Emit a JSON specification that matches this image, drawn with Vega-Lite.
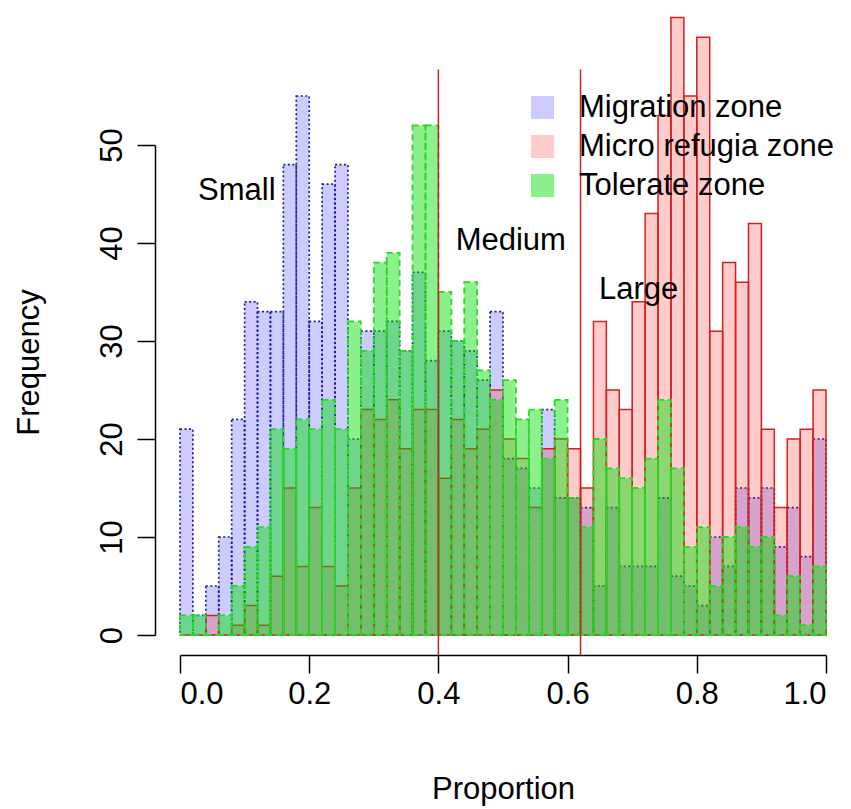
{
  "$schema": "https://vega.github.io/schema/vega-lite/v6.json",
  "width": 646,
  "height": 490,
  "autosize": {"type": "none"},
  "padding": {"left": 180, "top": 145, "right": 25, "bottom": 174},
  "background": "white",
  "config": {
    "view": {"stroke": null},
    "font": "Liberation Sans",
    "axis": {"grid": false, "domainColor": "black", "tickColor": "black", "labelColor": "black", "titleColor": "black", "domainWidth": 1.5, "tickWidth": 1.5, "labelFont": "Liberation Sans", "titleFont": "Liberation Sans", "labelFontSize": 31, "titleFontSize": 31, "titleFontWeight": "normal"}
  },
  "data": {"values": [
    {"z":"Migration zone","a":0,"b":0.02,"n":21},{"z":"Migration zone","a":0.02,"b":0.04,"n":2},{"z":"Migration zone","a":0.04,"b":0.06,"n":5},{"z":"Migration zone","a":0.06,"b":0.08,"n":10},{"z":"Migration zone","a":0.08,"b":0.1,"n":22},
    {"z":"Migration zone","a":0.1,"b":0.12,"n":34},{"z":"Migration zone","a":0.12,"b":0.14,"n":33},{"z":"Migration zone","a":0.14,"b":0.16,"n":33},{"z":"Migration zone","a":0.16,"b":0.18,"n":48},{"z":"Migration zone","a":0.18,"b":0.2,"n":55},
    {"z":"Migration zone","a":0.2,"b":0.22,"n":32},{"z":"Migration zone","a":0.22,"b":0.24,"n":46},{"z":"Migration zone","a":0.24,"b":0.26,"n":48},{"z":"Migration zone","a":0.26,"b":0.28,"n":20},{"z":"Migration zone","a":0.28,"b":0.3,"n":31},
    {"z":"Migration zone","a":0.3,"b":0.32,"n":31},{"z":"Migration zone","a":0.32,"b":0.34,"n":32},{"z":"Migration zone","a":0.34,"b":0.36,"n":29},{"z":"Migration zone","a":0.36,"b":0.38,"n":37},{"z":"Migration zone","a":0.38,"b":0.4,"n":28},
    {"z":"Migration zone","a":0.4,"b":0.42,"n":31},{"z":"Migration zone","a":0.42,"b":0.44,"n":30},{"z":"Migration zone","a":0.44,"b":0.46,"n":29},{"z":"Migration zone","a":0.46,"b":0.48,"n":26},{"z":"Migration zone","a":0.48,"b":0.5,"n":33},
    {"z":"Migration zone","a":0.5,"b":0.52,"n":18},{"z":"Migration zone","a":0.52,"b":0.54,"n":17},{"z":"Migration zone","a":0.54,"b":0.56,"n":15},{"z":"Migration zone","a":0.56,"b":0.58,"n":23},{"z":"Migration zone","a":0.58,"b":0.6,"n":14},
    {"z":"Migration zone","a":0.6,"b":0.62,"n":14},{"z":"Migration zone","a":0.62,"b":0.64,"n":13},{"z":"Migration zone","a":0.64,"b":0.66,"n":5},{"z":"Migration zone","a":0.66,"b":0.68,"n":13},{"z":"Migration zone","a":0.68,"b":0.7,"n":7},
    {"z":"Migration zone","a":0.7,"b":0.72,"n":7},{"z":"Migration zone","a":0.72,"b":0.74,"n":7},{"z":"Migration zone","a":0.74,"b":0.76,"n":14},{"z":"Migration zone","a":0.76,"b":0.78,"n":6},{"z":"Migration zone","a":0.78,"b":0.8,"n":5},
    {"z":"Migration zone","a":0.8,"b":0.82,"n":3},{"z":"Migration zone","a":0.82,"b":0.84,"n":10},{"z":"Migration zone","a":0.84,"b":0.86,"n":7},{"z":"Migration zone","a":0.86,"b":0.88,"n":15},{"z":"Migration zone","a":0.88,"b":0.9,"n":14},
    {"z":"Migration zone","a":0.9,"b":0.92,"n":15},{"z":"Migration zone","a":0.92,"b":0.94,"n":9},{"z":"Migration zone","a":0.94,"b":0.96,"n":13},{"z":"Migration zone","a":0.96,"b":0.98,"n":8},{"z":"Migration zone","a":0.98,"b":1,"n":20},

    {"z":"Micro refugia zone","a":0,"b":0.02,"n":0},{"z":"Micro refugia zone","a":0.02,"b":0.04,"n":0},{"z":"Micro refugia zone","a":0.04,"b":0.06,"n":2},{"z":"Micro refugia zone","a":0.06,"b":0.08,"n":0},{"z":"Micro refugia zone","a":0.08,"b":0.1,"n":1},
    {"z":"Micro refugia zone","a":0.1,"b":0.12,"n":3},{"z":"Micro refugia zone","a":0.12,"b":0.14,"n":1},{"z":"Micro refugia zone","a":0.14,"b":0.16,"n":6},{"z":"Micro refugia zone","a":0.16,"b":0.18,"n":15},{"z":"Micro refugia zone","a":0.18,"b":0.2,"n":7},
    {"z":"Micro refugia zone","a":0.2,"b":0.22,"n":13},{"z":"Micro refugia zone","a":0.22,"b":0.24,"n":7},{"z":"Micro refugia zone","a":0.24,"b":0.26,"n":5},{"z":"Micro refugia zone","a":0.26,"b":0.28,"n":15},{"z":"Micro refugia zone","a":0.28,"b":0.3,"n":23},
    {"z":"Micro refugia zone","a":0.3,"b":0.32,"n":22},{"z":"Micro refugia zone","a":0.32,"b":0.34,"n":24},{"z":"Micro refugia zone","a":0.34,"b":0.36,"n":19},{"z":"Micro refugia zone","a":0.36,"b":0.38,"n":23},{"z":"Micro refugia zone","a":0.38,"b":0.4,"n":23},
    {"z":"Micro refugia zone","a":0.4,"b":0.42,"n":16},{"z":"Micro refugia zone","a":0.42,"b":0.44,"n":22},{"z":"Micro refugia zone","a":0.44,"b":0.46,"n":19},{"z":"Micro refugia zone","a":0.46,"b":0.48,"n":21},{"z":"Micro refugia zone","a":0.48,"b":0.5,"n":25},
    {"z":"Micro refugia zone","a":0.5,"b":0.52,"n":20},{"z":"Micro refugia zone","a":0.52,"b":0.54,"n":18},{"z":"Micro refugia zone","a":0.54,"b":0.56,"n":13},{"z":"Micro refugia zone","a":0.56,"b":0.58,"n":19},{"z":"Micro refugia zone","a":0.58,"b":0.6,"n":20},
    {"z":"Micro refugia zone","a":0.6,"b":0.62,"n":19},{"z":"Micro refugia zone","a":0.62,"b":0.64,"n":15},{"z":"Micro refugia zone","a":0.64,"b":0.66,"n":32},{"z":"Micro refugia zone","a":0.66,"b":0.68,"n":25},{"z":"Micro refugia zone","a":0.68,"b":0.7,"n":23},
    {"z":"Micro refugia zone","a":0.7,"b":0.72,"n":34},{"z":"Micro refugia zone","a":0.72,"b":0.74,"n":43},{"z":"Micro refugia zone","a":0.74,"b":0.76,"n":53},{"z":"Micro refugia zone","a":0.76,"b":0.78,"n":63},{"z":"Micro refugia zone","a":0.78,"b":0.8,"n":55},
    {"z":"Micro refugia zone","a":0.8,"b":0.82,"n":61},{"z":"Micro refugia zone","a":0.82,"b":0.84,"n":31},{"z":"Micro refugia zone","a":0.84,"b":0.86,"n":38},{"z":"Micro refugia zone","a":0.86,"b":0.88,"n":36},{"z":"Micro refugia zone","a":0.88,"b":0.9,"n":42},
    {"z":"Micro refugia zone","a":0.9,"b":0.92,"n":21},{"z":"Micro refugia zone","a":0.92,"b":0.94,"n":13},{"z":"Micro refugia zone","a":0.94,"b":0.96,"n":20},{"z":"Micro refugia zone","a":0.96,"b":0.98,"n":21},{"z":"Micro refugia zone","a":0.98,"b":1,"n":25},

    {"z":"Tolerate zone","a":0,"b":0.02,"n":2},{"z":"Tolerate zone","a":0.02,"b":0.04,"n":2},{"z":"Tolerate zone","a":0.04,"b":0.06,"n":0},{"z":"Tolerate zone","a":0.06,"b":0.08,"n":2},{"z":"Tolerate zone","a":0.08,"b":0.1,"n":5},
    {"z":"Tolerate zone","a":0.1,"b":0.12,"n":9},{"z":"Tolerate zone","a":0.12,"b":0.14,"n":11},{"z":"Tolerate zone","a":0.14,"b":0.16,"n":21},{"z":"Tolerate zone","a":0.16,"b":0.18,"n":19},{"z":"Tolerate zone","a":0.18,"b":0.2,"n":22},
    {"z":"Tolerate zone","a":0.2,"b":0.22,"n":21},{"z":"Tolerate zone","a":0.22,"b":0.24,"n":24},{"z":"Tolerate zone","a":0.24,"b":0.26,"n":21},{"z":"Tolerate zone","a":0.26,"b":0.28,"n":32},{"z":"Tolerate zone","a":0.28,"b":0.3,"n":29},
    {"z":"Tolerate zone","a":0.3,"b":0.32,"n":38},{"z":"Tolerate zone","a":0.32,"b":0.34,"n":39},{"z":"Tolerate zone","a":0.34,"b":0.36,"n":29},{"z":"Tolerate zone","a":0.36,"b":0.38,"n":52},{"z":"Tolerate zone","a":0.38,"b":0.4,"n":52},
    {"z":"Tolerate zone","a":0.4,"b":0.42,"n":35},{"z":"Tolerate zone","a":0.42,"b":0.44,"n":30},{"z":"Tolerate zone","a":0.44,"b":0.46,"n":36},{"z":"Tolerate zone","a":0.46,"b":0.48,"n":27},{"z":"Tolerate zone","a":0.48,"b":0.5,"n":24},
    {"z":"Tolerate zone","a":0.5,"b":0.52,"n":26},{"z":"Tolerate zone","a":0.52,"b":0.54,"n":22},{"z":"Tolerate zone","a":0.54,"b":0.56,"n":23},{"z":"Tolerate zone","a":0.56,"b":0.58,"n":18},{"z":"Tolerate zone","a":0.58,"b":0.6,"n":24},
    {"z":"Tolerate zone","a":0.6,"b":0.62,"n":14},{"z":"Tolerate zone","a":0.62,"b":0.64,"n":11},{"z":"Tolerate zone","a":0.64,"b":0.66,"n":20},{"z":"Tolerate zone","a":0.66,"b":0.68,"n":17},{"z":"Tolerate zone","a":0.68,"b":0.7,"n":16},
    {"z":"Tolerate zone","a":0.7,"b":0.72,"n":15},{"z":"Tolerate zone","a":0.72,"b":0.74,"n":18},{"z":"Tolerate zone","a":0.74,"b":0.76,"n":24},{"z":"Tolerate zone","a":0.76,"b":0.78,"n":17},{"z":"Tolerate zone","a":0.78,"b":0.8,"n":9},
    {"z":"Tolerate zone","a":0.8,"b":0.82,"n":11},{"z":"Tolerate zone","a":0.82,"b":0.84,"n":5},{"z":"Tolerate zone","a":0.84,"b":0.86,"n":10},{"z":"Tolerate zone","a":0.86,"b":0.88,"n":11},{"z":"Tolerate zone","a":0.88,"b":0.9,"n":9},
    {"z":"Tolerate zone","a":0.9,"b":0.92,"n":10},{"z":"Tolerate zone","a":0.92,"b":0.94,"n":2},{"z":"Tolerate zone","a":0.94,"b":0.96,"n":6},{"z":"Tolerate zone","a":0.96,"b":0.98,"n":1},{"z":"Tolerate zone","a":0.98,"b":1,"n":7}
  ]},
  "layer": [
    {
      "transform": [{"filter": "datum.z == 'Migration zone'"}],
      "mark": {"type": "bar", "stroke": "#1c1c96", "strokeWidth": 1.7, "strokeDash": [2, 2.5]},
      "encoding": {
        "x": {"field": "a", "type": "quantitative", "scale": {"domain": [0, 1], "nice": false, "zero": false},
              "axis": {"values": [0, 0.2, 0.4, 0.6, 0.8, 1], "format": ".1f", "offset": 20, "tickSize": 18, "labelPadding": 6, "labelBaseline": "top", "title": "Proportion", "titleBaseline": "alphabetic", "titleY": 143, "titleAnchor": "middle"}},
        "x2": {"field": "b"},
        "y": {"field": "n", "type": "quantitative", "scale": {"domain": [0, 50], "nice": false},
              "axis": {"values": [0, 10, 20, 30, 40, 50], "offset": 25, "tickSize": 18, "labelAngle": -90, "labelAlign": "center", "labelBaseline": "alphabetic", "labelPadding": 16, "title": "Frequency", "titleAngle": -90, "titleAlign": "center", "titleBaseline": "alphabetic", "titleX": -117, "titleY": 217}},
        "y2": {"datum": 0},
        "fill": {"field": "z", "type": "nominal",
                 "scale": {"domain": ["Migration zone", "Micro refugia zone", "Tolerate zone"], "range": ["rgba(0,0,255,0.2)", "rgba(255,0,0,0.2)", "rgba(0,225,0,0.45)"]},
                 "legend": {"orient": "none", "legendX": 347, "legendY": -53, "title": null, "padding": 0, "symbolType": "square", "symbolSize": 529, "symbolStrokeWidth": 0, "labelFontSize": 31, "labelFont": "Liberation Sans", "labelColor": "black", "labelOffset": 21, "labelLimit": 400, "rowPadding": 7}}
      }
    },
    {
      "transform": [{"filter": "datum.z == 'Micro refugia zone'"}],
      "mark": {"type": "bar", "stroke": "#d42020", "strokeWidth": 1.5},
      "encoding": {
        "x": {"field": "a", "type": "quantitative"},
        "x2": {"field": "b"},
        "y": {"field": "n", "type": "quantitative"},
        "y2": {"datum": 0},
        "fill": {"field": "z", "type": "nominal"}
      }
    },
    {
      "transform": [{"filter": "datum.z == 'Tolerate zone'"}],
      "mark": {"type": "bar", "stroke": "#2ad82a", "strokeWidth": 1.8, "strokeDash": [6, 4]},
      "encoding": {
        "x": {"field": "a", "type": "quantitative"},
        "x2": {"field": "b"},
        "y": {"field": "n", "type": "quantitative"},
        "y2": {"datum": 0},
        "fill": {"field": "z", "type": "nominal"}
      }
    },
    {
      "data": {"values": [{"v": 0.4}, {"v": 0.62}]},
      "mark": {"type": "rule", "color": "#cc2222", "strokeWidth": 1.5},
      "encoding": {
        "x": {"field": "v", "type": "quantitative"},
        "y": {"datum": 57.7},
        "y2": {"datum": -2.1}
      }
    },
    {
      "data": {"values": [{"t": "Small", "px": 0.088, "py": 45.3}, {"t": "Medium", "px": 0.512, "py": 40.2}, {"t": "Large", "px": 0.71, "py": 35.2}]},
      "mark": {"type": "text", "fontSize": 31, "font": "Liberation Sans", "color": "black", "align": "center", "baseline": "middle"},
      "encoding": {
        "x": {"field": "px", "type": "quantitative"},
        "y": {"field": "py", "type": "quantitative"},
        "text": {"field": "t"}
      }
    }
  ]
}
